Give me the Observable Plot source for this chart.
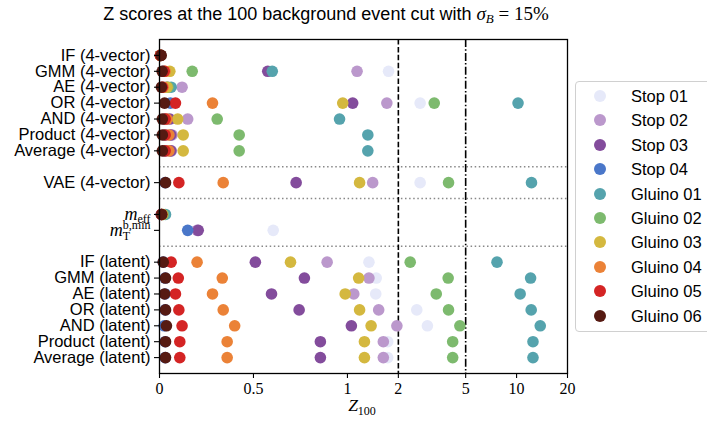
<!DOCTYPE html>
<html>
<head>
<meta charset="utf-8">
<script src="https://cdn.jsdelivr.net/npm/d3@7"></script>
<script src="https://cdn.jsdelivr.net/npm/@observablehq/plot@0.6"></script>
<style>
  body { margin: 0; background: #fff; }
  #wrap { position: relative; width: 707px; height: 421px; overflow: hidden; font-family: "Liberation Sans", Arial, sans-serif; }
  #wrap svg { display: block; position: absolute; left: 0; top: 0; }
  #legend { position: absolute; left: 575px; top: 81px; width: 160px; height: 251px; border: 1px solid #d0d0d0; border-radius: 4px; box-sizing: border-box; background: #fff; }
  .sw { position: absolute; width: 12px; height: 12px; border-radius: 50%; }
  .lt { position: absolute; font-size: 16.5px; line-height: 20px; color: #000; white-space: nowrap; }
</style>
</head>
<body>
<div id="wrap"></div>
<script>
// ---- data ----
const rows = [
  "IF (4-vector)", "GMM (4-vector)", "AE (4-vector)", "OR (4-vector)", "AND (4-vector)", "Product (4-vector)", "Average (4-vector)",
  "VAE (4-vector)",
  "m_eff", "m_T^b,min",
  "IF (latent)", "GMM (latent)", "AE (latent)", "OR (latent)", "AND (latent)", "Product (latent)", "Average (latent)"
];
const groups = [
  ["IF (4-vector)", "GMM (4-vector)", "AE (4-vector)", "OR (4-vector)", "AND (4-vector)", "Product (4-vector)", "Average (4-vector)"],
  ["VAE (4-vector)"],
  ["m_eff", "m_T^b,min"],
  ["IF (latent)", "GMM (latent)", "AE (latent)", "OR (latent)", "AND (latent)", "Product (latent)", "Average (latent)"]
];
const seriesNames = ["Stop 01", "Stop 02", "Stop 03", "Stop 04", "Gluino 01", "Gluino 02", "Gluino 03", "Gluino 04", "Gluino 05", "Gluino 06"];
const seriesColors = ["#e6e9f9", "#bb98cc", "#834c9c", "#4a77c9", "#55a3ad", "#7dba6e", "#d4b83f", "#eb8237", "#d42424", "#561a12"];

const stop01   = [0.005, 1.75, 0.03, 2.69, 0.04, 0.03, 0.03, 2.69, 0.01, 0.605, 1.34, 1.48, 1.47, 2.57, 2.97, 1.73, 1.73];
const stop02   = [0.005, 1.14, 0.12, 1.71, 0.15, 0.067, 0.063, 1.41, 0.01, 0.2, 0.892, 1.34, 1.09, 1.53, 1.96, 1.63, 1.63];
const stop03   = [0.005, 0.576, 0.04, 1.074, 0.055, 0.06, 0.06, 0.727, 0.01, 0.206, 0.51, 0.771, 0.596, 0.743, 1.055, 0.856, 0.856];
const stop04   = [0.005, 0.02, 0.02, 0.058, 0.03, 0.03, 0.03, 0.03, 0.01, 0.15, 0.02, 0.03, 0.03, 0.03, 0.025, 0.03, 0.03];
const gluino01 = [0.005, 0.6, 0.062, 10.2, 0.958, 1.32, 1.32, 12.25, 0.032, null, 7.66, 12.1, 10.5, 12.2, 13.8, 12.5, 12.5];
const gluino02 = [0.005, 0.174, 0.045, 3.26, 0.307, 0.424, 0.424, 3.96, 0.02, null, 2.35, 3.94, 3.35, 3.96, 4.62, 4.19, 4.19];
const gluino03 = [0.005, 0.055, 0.04, 0.975, 0.097, 0.126, 0.126, 1.18, 0.015, null, 0.697, 1.165, 0.988, 1.18, 1.38, 1.26, 1.26];
const gluino04 = [0.005, 0.03, 0.02, 0.282, 0.04, 0.05, 0.05, 0.339, 0.012, null, 0.2, 0.334, 0.282, 0.339, 0.4, 0.36, 0.36];
const gluino05 = [0.005, 0.025, 0.015, 0.085, 0.03, 0.03, 0.03, 0.103, 0.01, null, 0.062, 0.1, 0.085, 0.103, 0.12, 0.108, 0.108];
const gluino06 = [0.009, 0.014, 0.01, 0.027, 0.015, 0.015, 0.015, 0.032, 0.012, null, 0.02, 0.032, 0.027, 0.032, 0.037, 0.032, 0.032];
const seriesValues = [stop01, stop02, stop03, stop04, gluino01, gluino02, gluino03, gluino04, gluino05, gluino06];

const xTicks = [0, 0.5, 1, 2, 5, 10, 20];
const xTickLabels = ["0", "0.5", "1", "2", "5", "10", "20"];
const refLines = [2, 5];

// ---- layout helpers: row slot index with one empty slot between groups ----
const slotOf = new Map();
const gapSlots = [];
let slot = 0;
groups.forEach((g, i) => {
  if (i > 0) { gapSlots.push(slot); slot++; }
  g.forEach(r => { slotOf.set(r, slot); slot++; });
});
const nSlots = slot;

// ---- table ----
const table = [];
seriesNames.forEach((s, si) => {
  rows.forEach((r, ri) => {
    const v = seriesValues[si][ri];
    if (v != null) table.push({series: s, row: r, z: v});
  });
});

// symlog (linthresh = 1, base 10, linscale = 1) as matplotlib
const LS = 1 / (1 - 1 / 10);
const sym = z => z <= 1 ? z * LS : LS + Math.log10(z);

const serif = "'Liberation Serif', 'DejaVu Serif', serif";

const chart = Plot.plot({
  width: 707,
  height: 421,
  marginLeft: 159,
  marginRight: 140,
  marginTop: 39,
  marginBottom: 48,
  style: {fontFamily: "'Liberation Sans', Arial, sans-serif", background: "#fff", overflow: "visible"},
  x: {type: "linear", domain: [0, sym(20)], axis: null},
  y: {type: "linear", domain: [nSlots, -1], axis: null},
  color: {domain: seriesNames, range: seriesColors},
  marks: [
    Plot.ruleY(gapSlots, {stroke: "#888", strokeWidth: 1.5, strokeDasharray: "1.5,2.6"}),
    Plot.ruleX([refLines[0]], {x: d => sym(d), stroke: "#000", strokeWidth: 1.6, strokeDasharray: "5.5,2.4"}),
    Plot.ruleX([refLines[1]], {x: d => sym(d), stroke: "#000", strokeWidth: 1.6, strokeDasharray: "8,2.2,1.5,2.2"}),
    Plot.dot(table, {x: d => sym(d.z), y: d => slotOf.get(d.row), fill: "series", r: 5.8, stroke: "none"}),
    Plot.frame({stroke: "#000", strokeWidth: 1.3}),
    Plot.axisX(xTicks.map(sym), {
      tickSize: 5, tickPadding: 4, fontSize: 16, fontFamily: serif, label: null,
      tickFormat: (d, i) => xTickLabels[i], stroke: "#000", strokeWidth: 1.1
    }),
    Plot.axisY(rows.map(r => slotOf.get(r)), {
      tickSize: 5, tickPadding: 4, fontSize: 16.5, label: null,
      tickFormat: (d, i) => rows[i], stroke: "#000", strokeWidth: 1.1, fill: "#000"
    })
  ]
});

const wrap = document.getElementById("wrap");
wrap.appendChild(chart);
const svg = d3.select(chart);

// math tick labels
svg.selectAll("text").each(function () {
  const t = this.textContent;
  if (t === "m_eff") {
    const el = d3.select(this);
    el.text("");
    el.append("tspan").attr("font-family", serif).attr("font-style", "italic").attr("font-size", 18).text("m");
    el.append("tspan").attr("font-family", serif).attr("font-size", 12).attr("dy", 3.5).text("eff");
  } else if (t === "m_T^b,min") {
    const el = d3.select(this);
    el.text("");
    el.append("tspan").attr("font-family", serif).attr("font-style", "italic").attr("font-size", 18).text("m");
    const tsub = el.append("tspan").attr("font-family", serif).attr("font-size", 12).attr("dy", 4).text("T");
    const w = tsub.node().getComputedTextLength();
    el.append("tspan").attr("font-family", serif).attr("font-size", 12).attr("dx", -w).attr("dy", -11).text("b,min");
  }
});

// x label  Z_100
const xl = svg.append("text").attr("x", 362).attr("y", 411).attr("text-anchor", "middle").attr("font-family", serif).attr("font-size", 17.5);
xl.append("tspan").attr("font-style", "italic").text("Z");
xl.append("tspan").attr("font-size", 12).attr("dy", 3.5).text("100");

// title
const tt = svg.append("text").attr("x", 326).attr("y", 20).attr("text-anchor", "middle").attr("font-size", 18).attr("fill", "#000");
tt.append("tspan").text("Z scores at the 100 background event cut with ");
tt.append("tspan").attr("font-family", serif).attr("font-style", "italic").attr("font-size", 19).text("σ");
tt.append("tspan").attr("font-family", serif).attr("font-style", "italic").attr("font-size", 13).attr("dy", 3).text("B");
tt.append("tspan").attr("font-family", serif).attr("font-size", 19).attr("dy", -3).text(" = 15%");

// legend
const lg = document.createElement("div");
lg.id = "legend";
seriesNames.forEach((s, i) => {
  const cy = 14 + i * 24.4;
  const sw = document.createElement("div");
  sw.className = "sw";
  sw.style.left = "18px";
  sw.style.top = (cy - 6) + "px";
  sw.style.background = seriesColors[i];
  lg.appendChild(sw);
  const lt = document.createElement("div");
  lt.className = "lt";
  lt.style.left = "55px";
  lt.style.top = (cy - 10) + "px";
  lt.textContent = s;
  lg.appendChild(lt);
});
wrap.appendChild(lg);
</script>
</body>
</html>
